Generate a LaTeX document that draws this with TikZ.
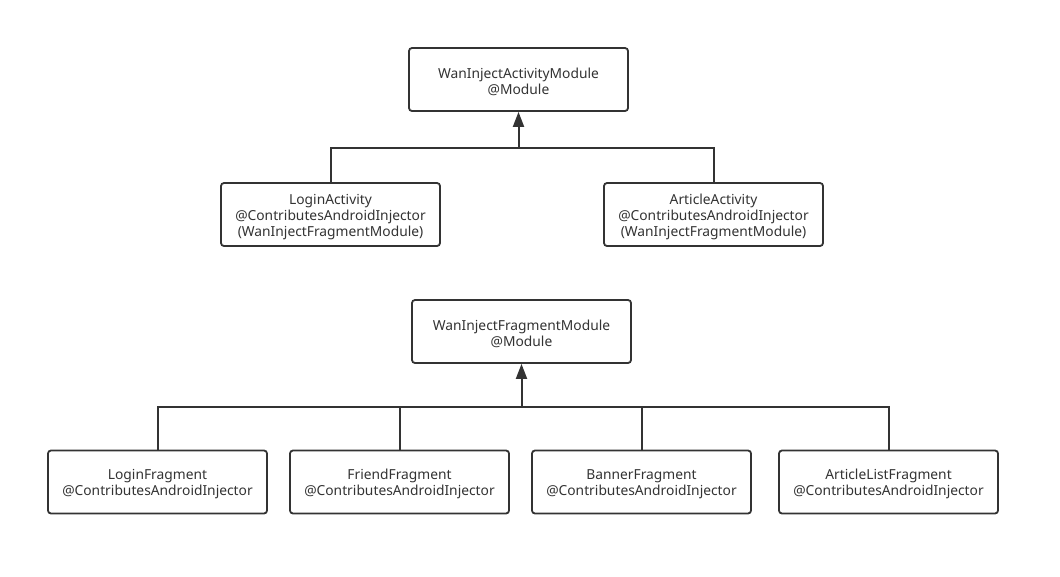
\documentclass[tikz,border=0pt]{standalone}
\usepackage{fontspec}
\setmainfont{Noto Sans}
\usetikzlibrary{arrows.meta}
\definecolor{ink}{HTML}{333333}
\newcommand\topstrutx{\rule{0pt}{15pt}}
\begin{document}
\begin{tikzpicture}[x=1pt,y=-1pt,
  box/.style={draw=ink,line width=1.8pt,rounded corners=3pt,fill=white,
    minimum width=219pt,minimum height=63pt,align=center,inner sep=0pt,
    font=\fontsize{13.8}{16}\selectfont,text=ink},
  link/.style={draw=ink,line width=2pt},
  up/.style={link,-{Triangle[width=11pt,length=15pt]}}]
\useasboundingbox[fill=white] (0,0) rectangle (1060,576);
\node[box] (am) at (518.5,79.5) {\topstrutx WanInjectActivityModule\\@Module};
\node[box] (la) at (330.5,214.5) {\topstrutx LoginActivity\\@ContributesAndroidInjector\\(WanInjectFragmentModule)};
\node[box] (aa) at (713.5,214.5) {\topstrutx ArticleActivity\\@ContributesAndroidInjector\\(WanInjectFragmentModule)};
\node[box] (fm) at (521.5,331.5) {\topstrutx WanInjectFragmentModule\\@Module};
\node[box] (lf) at (157.5,482) {\topstrutx LoginFragment\\@ContributesAndroidInjector};
\node[box] (ff) at (399.5,482) {\topstrutx FriendFragment\\@ContributesAndroidInjector};
\node[box] (bf) at (641.5,482) {\topstrutx BannerFragment\\@ContributesAndroidInjector};
\node[box] (af) at (888.5,482) {\topstrutx ArticleListFragment\\@ContributesAndroidInjector};
\coordinate (j1) at (518.5,148);
\coordinate (j2) at (521.5,407);
\draw[link] (la.north) |- (j1) -| (aa.north);
\draw[up] (j1) -- (am.south);
\draw[link] (lf.north) |- (j2) -| (af.north);
\draw[link] (ff.north) |- (j2);
\draw[link] (bf.north) |- (j2);
\draw[up] (j2) -- (fm.south);
\end{tikzpicture}
\end{document}
